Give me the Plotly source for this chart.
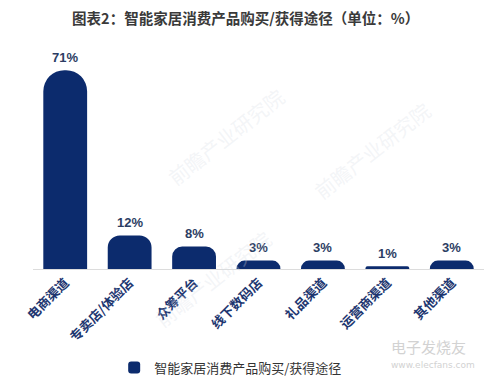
import plotly.graph_objects as go

categories = ["电商渠道", "专卖店/体验店", "众筹平台", "线下数码店", "礼品渠道", "运营商渠道", "其他渠道"]
values = [71, 12, 8, 3, 3, 1, 3]
series_name = "智能家居消费产品购买/获得途径"
title_text = "图表2：智能家居消费产品购买/获得途径（单位：%）"
corner_radii = [22, 12, 10, 8, 8, 4, 8]

BAR = "#0c2b6d"
FONT = "Noto Sans CJK SC"

fig = go.Figure()
for i, (c, v) in enumerate(zip(categories, values)):
    fig.add_trace(go.Bar(
        x=[c], y=[v],
        name=series_name,
        legendgroup="s",
        showlegend=(i == 0),
        marker=dict(color=BAR, cornerradius=corner_radii[i], line=dict(width=0)),
        hoverinfo="skip",
    ))
    fig.add_annotation(x=c, y=v, xref="x", yref="y", text=f"{v}%", showarrow=False,
                       yanchor="middle", yshift=13,
                       font=dict(family="Liberation Sans, Arial", size=13, color="#2c3d63", weight="bold"))

# page body has an 8px default margin, so the figure is sized/placed to compensate
fig.update_layout(
    width=485, height=376,
    margin=dict(l=25, r=9, t=37, b=115, autoexpand=False),
    paper_bgcolor="white", plot_bgcolor="white",
    barmode="overlay",
    bargap=0.32,
    title=dict(text=title_text, x=0.49, xanchor="center", y=0.971, yanchor="middle",
               font=dict(family=FONT, size=14.5, color="#3a3a3a", weight="bold")),
    xaxis=dict(type="category", categoryorder="array", categoryarray=categories,
               automargin=False,
               showline=True, linecolor="#dcdcdc", linewidth=1,
               showgrid=False, ticks="", tickangle=-45,
               tickfont=dict(family=FONT, size=13, color="#1d3670", weight="bold")),
    yaxis=dict(range=[0, 80], visible=False, showgrid=False, automargin=False),
    showlegend=True,
    legend=dict(orientation="h", x=0.18, xanchor="left", y=-0.44, yanchor="middle",
                font=dict(family=FONT, size=13, color="#333333"),
                itemwidth=30, traceorder="normal"),
    font=dict(family=FONT),
)

# faint watermarks
fig.add_annotation(text="电子发烧友", xref="paper", yref="paper", x=0.79, y=-0.345,
                   xanchor="left", yanchor="middle", showarrow=False,
                   font=dict(family=FONT, size=15, color="#d2d2d2"))
fig.add_annotation(text="www.elecfans.com", xref="paper", yref="paper", x=0.79, y=-0.43,
                   xanchor="left", yanchor="middle", showarrow=False,
                   font=dict(family="DejaVu Sans", size=9, color="#d2d2d2"))
for xx, yy in [(0.28, 0.59), (0.9, 0.53), (0.4, -0.3)]:
    fig.add_annotation(text="前瞻产业研究院", xref="paper", yref="paper", x=xx, y=yy,
                       showarrow=False, textangle=-38,
                       font=dict(family=FONT, size=20, color="rgba(215,220,230,0.3)"))

fig.write_html("out.html")
